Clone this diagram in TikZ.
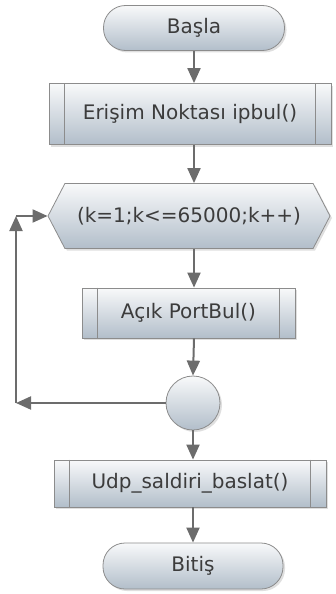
\documentclass[tikz,border=0pt]{standalone}
\usepackage{fontspec}
\setmainfont{DejaVu Sans}
\usetikzlibrary{arrows.meta,shadows,shapes.symbols}

\definecolor{kenar}{RGB}{140,140,140}
\definecolor{okrenk}{RGB}{108,108,108}
\definecolor{ust}{RGB}{248,249,250}
\definecolor{alt}{RGB}{178,190,202}
\definecolor{yazi}{RGB}{60,60,60}

\begin{document}
\begin{tikzpicture}[x=1pt,y=-1pt,
    every node/.style={font=\fontsize{20}{24}\selectfont,text=yazi,inner sep=0pt},
    blok/.style={draw=kenar,line width=0.8pt,top color=ust,bottom color=alt,
      drop shadow={shadow xshift=2pt,shadow yshift=-2pt,opacity=0.25}},
    uc/.style={blok,rectangle,rounded corners=22pt,minimum width=181pt,minimum height=45pt},
    islem/.style={blok,rectangle,minimum height=47pt},
    dongubox/.style={blok,signal,signal to=west and east,signal pointer angle=125,
      minimum width=282pt,minimum height=65pt},
    ok/.style={draw=okrenk,line width=2pt,-{Triangle[length=15pt,width=13pt]}}]
  \path[use as bounding box] (0,0) rectangle (335,594);

  \node[uc] (basla) at (194,28) {Başla};
  \node[islem,minimum width=282pt,minimum height=61pt] (ipbul) at (190,114) {Erişim Noktası ipbul()};
  \node[dongubox] (dongu) at (189,216) {(k=1;k<=65000;k++)};
  \node[islem,minimum width=213pt,minimum height=50pt] (portbul) at (188.5,313) {Açık PortBul()};
  \node[blok,circle,minimum size=54pt] (birles) at (193,403) {};
  \node[islem,minimum width=272pt] (udp) at (190,483.5) {Udp\_saldiri\_baslat()};
  \node[uc,minimum width=180pt,minimum height=46pt] (bitis) at (193,566) {Bitiş};

  \foreach \n in {ipbul,portbul,udp} {
    \draw[kenar,line width=0.8pt] ([xshift=16pt]\n.north west) -- ([xshift=16pt]\n.south west);
    \draw[kenar,line width=0.8pt] ([xshift=-16pt]\n.north east) -- ([xshift=-16pt]\n.south east);
  }

  \coordinate (altkose) at (16,403);
  \coordinate (ustkose) at (16,216);

  \draw[ok] (basla.south) -- (basla.south |- ipbul.north);
  \draw[ok] (basla.south |- ipbul.south) -- (basla.south |- dongu.north);
  \draw[ok] (basla.south |- dongu.south) -- (basla.south |- portbul.north);
  \draw[ok] (basla.south |- portbul.south) -- (birles.north);
  \draw[ok] (birles.south) -- (birles.south |- udp.north);
  \draw[ok] (birles.south |- udp.south) -- (bitis.north);

  \draw[ok] (birles.west) -- (altkose);
  \draw[ok] (altkose) -- (ustkose);
  \draw[ok] (ustkose) -- (dongu.west);
\end{tikzpicture}
\end{document}
